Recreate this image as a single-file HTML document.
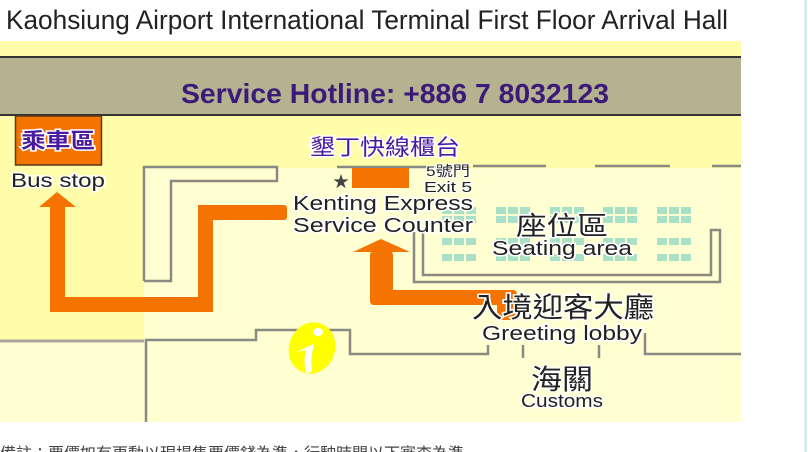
<!DOCTYPE html>
<html><head><meta charset="utf-8"><style>
html,body{margin:0;padding:0;background:#fff;width:808px;height:452px;overflow:hidden}
svg{display:block}
text{font-family:"Liberation Sans","Noto Sans CJK TC",sans-serif}
</style></head><body>
<svg width="808" height="452" viewBox="0 0 808 452" xmlns="http://www.w3.org/2000/svg">
<defs>
<g id="sg" fill="#a8e0c8">
<rect x="0" y="0" width="10" height="7"/><rect x="12" y="0" width="10" height="7"/><rect x="24" y="0" width="10" height="7"/>
<rect x="0" y="9" width="10" height="7"/><rect x="12" y="9" width="10" height="7"/><rect x="24" y="9" width="10" height="7"/>
<rect x="0" y="31" width="10" height="7"/><rect x="12" y="31" width="10" height="7"/><rect x="24" y="31" width="10" height="7"/>
<rect x="0" y="47" width="10" height="7"/><rect x="12" y="47" width="10" height="7"/><rect x="24" y="47" width="10" height="7"/>
</g>
</defs>
<rect x="0" y="0" width="808" height="452" fill="#fff"/>
<line x1="805.5" y1="0" x2="805.5" y2="452" stroke="#bfe6ee" stroke-width="2"/>
<text x="6" y="29" font-size="27" fill="#222" textLength="722" lengthAdjust="spacingAndGlyphs">Kaohsiung Airport International Terminal First Floor Arrival Hall</text>
<rect x="0" y="41" width="741" height="381" fill="#fffdaa"/>
<rect x="144" y="168" width="597" height="254" fill="#ffffd2"/>
<rect x="0" y="340" width="144" height="82" fill="#ffffd2"/>
<rect x="0" y="56" width="741" height="60" fill="#b5b38f"/>
<line x1="0" y1="57" x2="741" y2="57" stroke="#333" stroke-width="2"/>
<line x1="0" y1="115" x2="741" y2="115" stroke="#333" stroke-width="2"/>
<text x="395" y="103" font-size="28" font-weight="bold" fill="#3b1a7a" text-anchor="middle" textLength="428" lengthAdjust="spacingAndGlyphs">Service Hotline: +886 7 8032123</text>
<rect x="15.5" y="116" width="86" height="49" fill="#f57300" stroke="#5a3a1a" stroke-width="1.5"/>
<text x="58" y="148" font-size="21" font-weight="bold" fill="#4a1aa0" stroke="#fff" stroke-width="3" paint-order="stroke" text-anchor="middle" textLength="74" lengthAdjust="spacingAndGlyphs">乘車區</text>
<text x="58" y="187" font-size="19" fill="#222" stroke="#fff" stroke-width="3" paint-order="stroke" text-anchor="middle" textLength="94" lengthAdjust="spacingAndGlyphs">Bus stop</text>
<g fill="none" stroke="#8a8a85" stroke-width="2.5">
<polyline points="144,281 144,167 277,167 277,181 171,181 171,281 144,281"/>
<line x1="337" y1="167" x2="470" y2="167"/>
<line x1="473" y1="166" x2="546" y2="166"/>
<line x1="595" y1="166" x2="670" y2="166"/>
<line x1="712" y1="166" x2="741" y2="166"/>
<polyline points="414,232 414,282 720,282 720,230 711,230 711,275 423,275 423,232"/>
<polyline points="146,422 146,340 256,340 256,330 350,330 350,354 488,354 488,345"/>
<line x1="523" y1="345" x2="523" y2="358"/>
<line x1="599" y1="345" x2="599" y2="358"/>
<polyline points="645,333 645,354 741,354"/>
</g>
<line x1="0" y1="341" x2="144" y2="341" stroke="#a8a69a" stroke-width="3"/>
<use href="#sg" x="442" y="207"/>
<use href="#sg" x="496" y="207"/>
<use href="#sg" x="550" y="207"/>
<use href="#sg" x="603" y="207"/>
<use href="#sg" x="657" y="207"/>
<g fill="#f57300">
<polygon points="39,207 57,192 76,207"/>
<rect x="50" y="206" width="15" height="106"/>
<rect x="50" y="297" width="163" height="15" rx="3"/>
<rect x="198" y="205" width="15" height="107"/>
<rect x="198" y="205" width="89" height="15" rx="3"/>
<rect x="352" y="168" width="57" height="20"/>
<polygon points="353,252 381,239 410,252"/>
<rect x="370" y="251" width="23" height="54" rx="4"/>
<rect x="370" y="290" width="147" height="15" rx="4"/>
<rect x="497" y="300" width="21" height="20" rx="2"/>
</g>
<text x="341" y="187" font-size="16" fill="#444" text-anchor="middle">★</text>
<text x="385" y="155" font-size="22" fill="#4a1aa0" stroke="#fff" stroke-width="3" paint-order="stroke" text-anchor="middle" textLength="150" lengthAdjust="spacingAndGlyphs">墾丁快線櫃台</text>
<text x="470" y="176" font-size="14" fill="#222" stroke="#fff" stroke-width="2" paint-order="stroke" text-anchor="end" textLength="44" lengthAdjust="spacingAndGlyphs">5號門</text>
<text x="472" y="192" font-size="15" fill="#222" stroke="#fff" stroke-width="2" paint-order="stroke" text-anchor="end" textLength="48" lengthAdjust="spacingAndGlyphs">Exit 5</text>
<text x="383" y="210" font-size="20" fill="#222" stroke="#fff" stroke-width="3" paint-order="stroke" text-anchor="middle" textLength="180" lengthAdjust="spacingAndGlyphs">Kenting Express</text>
<text x="383" y="232" font-size="20" fill="#222" stroke="#fff" stroke-width="3" paint-order="stroke" text-anchor="middle" textLength="180" lengthAdjust="spacingAndGlyphs">Service Counter</text>
<text x="562" y="235" font-size="26" fill="#222" stroke="#fff" stroke-width="3" paint-order="stroke" text-anchor="middle" textLength="92" lengthAdjust="spacingAndGlyphs">座位區</text>
<text x="562" y="255" font-size="20" fill="#222" stroke="#fff" stroke-width="3" paint-order="stroke" text-anchor="middle" textLength="140" lengthAdjust="spacingAndGlyphs">Seating area</text>
<text x="563" y="317" font-size="28" fill="#222" stroke="#fff" stroke-width="3" paint-order="stroke" text-anchor="middle" textLength="182" lengthAdjust="spacingAndGlyphs">入境迎客大廳</text>
<text x="562" y="340" font-size="20" fill="#222" stroke="#fff" stroke-width="3" paint-order="stroke" text-anchor="middle" textLength="160" lengthAdjust="spacingAndGlyphs">Greeting lobby</text>
<text x="562" y="389" font-size="28" fill="#222" stroke="#fff" stroke-width="3" paint-order="stroke" text-anchor="middle" textLength="62" lengthAdjust="spacingAndGlyphs">海關</text>
<text x="562" y="407" font-size="18" fill="#222" stroke="#fff" stroke-width="3" paint-order="stroke" text-anchor="middle" textLength="82" lengthAdjust="spacingAndGlyphs">Customs</text>
<ellipse cx="312" cy="348" rx="23" ry="26" fill="#ffff00" transform="rotate(20 312 348)"/>
<ellipse cx="318" cy="332" rx="5" ry="4" fill="#fff"/>
<path d="M296,352 L314,344 Q310,358 312,372 L306,373 Q303,360 306,350 Z" fill="#fff"/>
<text x="0" y="459" font-size="16" fill="#444">備註：票價如有更動以現場售票價錢為準，行駛時間以下審查為準</text>
</svg>
</body></html>
